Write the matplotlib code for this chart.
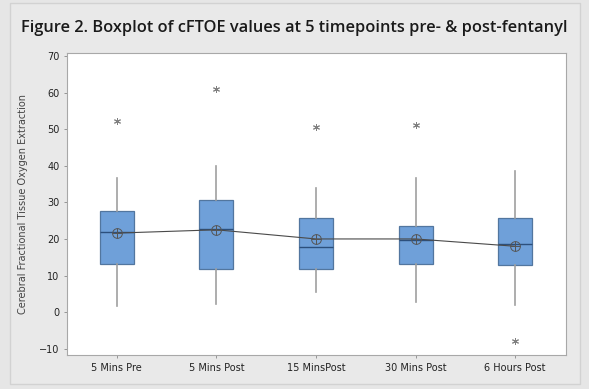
import matplotlib
matplotlib.use("Agg")
import matplotlib.pyplot as plt
from matplotlib.patches import Rectangle

# Timepoints and summary statistics of cFTOE
timepoints = ["5 Mins Pre", "5 Mins Post", "15 MinsPost", "30 Mins Post", "6 Hours Post"]
q1 = [13.1, 11.7, 11.7, 13.1, 12.8]
median = [21.9, 22.7, 17.8, 19.7, 18.6]
q3 = [27.6, 30.6, 25.7, 23.5, 25.7]
whisker_low = [1.6, 2.2, 5.5, 2.7, 1.9]
whisker_high = [36.6, 39.9, 33.9, 36.6, 38.5]
means = [21.6, 22.5, 20.0, 20.0, 18.0]
outliers = [[52.2], [61.0], [50.6], [51.0], [-8.0]]
y_ticks = [-10, 0, 10, 20, 30, 40, 50, 60, 70]

fig = plt.figure(figsize=(5.89, 3.89), dpi=100)
fig.patch.set_facecolor("#e6e6e6")
fig.patches.append(Rectangle((0.017, 0.012), 0.968, 0.98, transform=fig.transFigure,
                             facecolor="#e9e9e9", edgecolor="#d2d2d2", lw=1.0, zorder=-10))

ax = fig.add_axes([0.1138, 0.0874, 0.8472, 0.7764])
ax.set_facecolor("white")

stats = []
for i in range(len(timepoints)):
    stats.append(dict(label=timepoints[i], q1=q1[i], med=median[i], q3=q3[i],
                      whislo=whisker_low[i], whishi=whisker_high[i],
                      mean=means[i], fliers=outliers[i]))

pos = list(range(len(timepoints)))
ax.bxp(stats, positions=pos, widths=0.34, patch_artist=True, showcaps=False,
       showmeans=False,
       boxprops=dict(facecolor="#6fa0d9", edgecolor="#52769f", linewidth=0.9),
       medianprops=dict(color="#2c4f7c", linewidth=1.0),
       whiskerprops=dict(color="#a0a0a0", linewidth=1.2),
       flierprops=dict(marker=(6, 2, 0), markersize=5, markeredgecolor="#808080",
                       markeredgewidth=0.7, linestyle="none"))

# Mean connect line with circle-plus symbols
ax.plot(pos, means, color="#4a4a4a", lw=0.8, zorder=4)
ax.plot(pos, means, linestyle="none", marker="o", markersize=7, markerfacecolor="none",
        markeredgecolor="#555555", markeredgewidth=0.7, zorder=5)
ax.plot(pos, means, linestyle="none", marker="+", markersize=7,
        markeredgecolor="#555555", markeredgewidth=0.7, zorder=5)

ax.set_xlim(-0.5, 4.51)
ax.set_ylim(-11.7, 70.8)
ax.set_yticks(y_ticks)
ax.set_xticks(pos)
ax.set_xticklabels(timepoints, fontsize=7, color="#222222")
ax.tick_params(axis="y", labelsize=7, colors="#222222", length=2, width=0.6, color="#888888")
ax.tick_params(axis="x", length=2, width=0.6, color="#888888", pad=4)
for s in ax.spines.values():
    s.set_color("#a8a8a8")
    s.set_linewidth(0.8)

ax.set_ylabel("Cerebral Fractional Tissue Oxygen Extraction", fontsize=7, color="#444444",
              labelpad=8)

fig.text(0.5, 0.928, "Figure 2. Boxplot of cFTOE values at 5 timepoints pre- & post-fentanyl",
         ha="center", va="center", fontsize=11.8, fontweight="semibold",
         family="Open Sans", color="#1a1a1a")

fig.savefig("out.png", dpi=100, facecolor=fig.get_facecolor())
